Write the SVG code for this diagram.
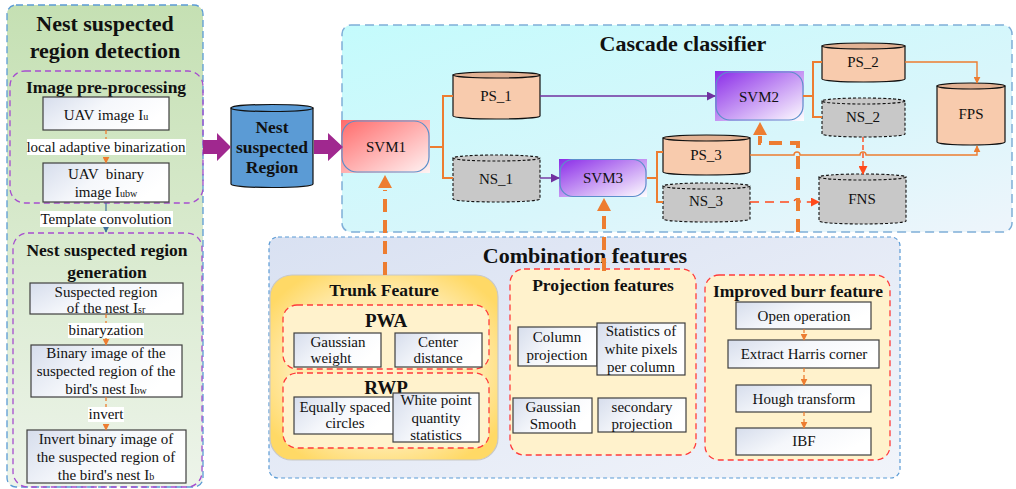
<svg xmlns="http://www.w3.org/2000/svg" width="1016" height="489" viewBox="0 0 1016 489">
<defs>
<linearGradient id="gGreen" x1="0" y1="0" x2="0" y2="1"><stop offset="0" stop-color="#C5E0B3"/><stop offset="1" stop-color="#EDF4EA"/></linearGradient>
<linearGradient id="gCyan" x1="0" y1="0" x2="1" y2="1"><stop offset="0" stop-color="#C4FBFC"/><stop offset="0.6" stop-color="#D8F6FB"/><stop offset="1" stop-color="#EEF5FB"/></linearGradient>
<linearGradient id="gComb" x1="0" y1="0" x2="1" y2="1"><stop offset="0" stop-color="#D9E1F2"/><stop offset="1" stop-color="#F1F4FA"/></linearGradient>
<linearGradient id="gBox" x1="0" y1="0" x2="1" y2="0.4"><stop offset="0" stop-color="#D6DDEC"/><stop offset="0.5" stop-color="#F5F7FB"/><stop offset="1" stop-color="#FFFFFF"/></linearGradient>
<linearGradient id="gRed" x1="0" y1="0" x2="1" y2="1"><stop offset="0" stop-color="#FF6A6A"/><stop offset="1" stop-color="#FFF4F4"/></linearGradient>
<linearGradient id="gViolet" x1="0" y1="0" x2="1" y2="1"><stop offset="0" stop-color="#8A2BE8"/><stop offset="1" stop-color="#FFFFFF"/></linearGradient>
<radialGradient id="gTrunk" cx="0.5" cy="0.5" r="0.6"><stop offset="0" stop-color="#FFF3C8"/><stop offset="0.7" stop-color="#FFE9A8"/><stop offset="1" stop-color="#FFD966"/></radialGradient>
<marker id="aO" viewBox="0 0 10 10" refX="9" refY="5" markerWidth="7" markerHeight="7" markerUnits="userSpaceOnUse" orient="auto"><path d="M0,0 L10,5 L0,10 Z" fill="#ED7D31"/></marker>
<marker id="aP" viewBox="0 0 10 10" refX="9" refY="5" markerWidth="9" markerHeight="9" markerUnits="userSpaceOnUse" orient="auto"><path d="M0,0 L10,5 L0,10 Z" fill="#7030A0"/></marker>
<marker id="aR" viewBox="0 0 10 10" refX="9" refY="5" markerWidth="9" markerHeight="9" markerUnits="userSpaceOnUse" orient="auto"><path d="M0,0 L10,5 L0,10 Z" fill="#FF4A1C"/></marker>
<marker id="aB" viewBox="0 0 10 10" refX="9" refY="5" markerWidth="7" markerHeight="7" markerUnits="userSpaceOnUse" orient="auto"><path d="M0,0 L10,5 L0,10 Z" fill="#41719C"/></marker>
<style>
text{font-family:"Liberation Serif","Times New Roman",serif;fill:#111;text-anchor:middle}
.t14{font-size:15px}
.t15{font-size:15px}
.b16{font-size:17.5px;font-weight:bold}
.b17{font-size:17.5px;font-weight:bold}
.b18{font-size:19px;font-weight:bold}
.b22{font-size:22px;font-weight:bold}
.sub{font-size:10px}
.wbox{fill:url(#gBox);stroke:#3F3F3F;stroke-width:1.2}
.lbl{fill:#FFFFFF}
.cylO{fill:#F8CBAD;stroke:#111;stroke-width:1.2}
.cylOt{fill:#E2B294;stroke:#111;stroke-width:1.2}
.cylG{fill:#C8C8C8;stroke:#111;stroke-width:1.1;stroke-dasharray:3 2}
.purp{fill:none;stroke:#A64DCF;stroke-width:1.3;stroke-dasharray:6 4}
.redd{fill:#FFF2CC;stroke:#FF3B3B;stroke-width:1.3;stroke-dasharray:6 4}
.oc{fill:none;stroke:#ED7D31;stroke-width:2}
.ocd{fill:none;stroke:#ED7D31;stroke-width:1.3;stroke-dasharray:4 3}
.big{fill:none;stroke:#ED7D31;stroke-width:4;stroke-dasharray:13 8}
.svmb{fill:none;stroke:#5B8FCB;stroke-width:1.2}
</style>
</defs>

<!-- Left panel -->
<g id="left-panel">
<rect x="7" y="5" width="196" height="482" rx="9" fill="url(#gGreen)" stroke="#5B9BD5" stroke-width="1.3" stroke-dasharray="7 4"/>
<text class="b22" x="105" y="31">Nest suspected</text>
<text class="b22" x="105" y="58">region detection</text>
</g>

<g id="pre-processing">
<rect x="10" y="71" width="193" height="132" rx="15" fill="#FBE4D6" class="purp"/>
<text class="b17" x="106" y="93">Image pre-processing</text>
</g>
<g id="uav-image">
<rect class="wbox" x="43" y="97" width="126" height="33"/>
<text class="t15" x="106" y="120">UAV image I<tspan class="sub">u</tspan></text>
</g>
<g id="uav-binary">
<rect class="wbox" x="43" y="163" width="126" height="39"/>
<text class="t15" x="106" y="179" xml:space="preserve">UAV  binary</text>
<text class="t15" x="106" y="197">image I<tspan class="sub">ubw</tspan></text>
</g>

<g id="generation">
<rect x="13" y="233" width="189" height="254" rx="15" fill="#FBE4D6" class="purp"/>
<text class="b17" x="107" y="256">Nest suspected region</text>
<text class="b17" x="107" y="278">generation</text>
</g>
<g id="suspected-region">
<rect class="wbox" x="30" y="283" width="153" height="31"/>
<text class="t14" x="106" y="297">Suspected region</text>
<text class="t14" x="106" y="313">of the nest I<tspan class="sub">sr</tspan></text>
</g>
<g id="binary-image">
<rect class="wbox" x="31" y="345" width="151" height="52"/>
<text class="t14" x="106" y="358">Binary image of the</text>
<text class="t14" x="106" y="376">suspected region of the</text>
<text class="t14" x="106" y="394">bird's nest I<tspan class="sub">bw</tspan></text>
</g>
<g id="invert-binary">
<rect class="wbox" x="27" y="430" width="159" height="53"/>
<text class="t14" x="106" y="444">Invert binary image of</text>
<text class="t14" x="106" y="462">the suspected region of</text>
<text class="t14" x="106" y="480">the bird's nest I<tspan class="sub">b</tspan></text>
</g>

<g id="nest-region">
<path d="M231,108 V184 A41,3.5 0 0 0 313,184 V108 Z" fill="#5B9BD5" stroke="#111" stroke-width="1.2"/>
<ellipse cx="272" cy="108" rx="41" ry="3.5" fill="#5B9BD5" stroke="#111" stroke-width="1.2"/>
<text class="b17" x="272" y="133">Nest</text>
<text class="b17" x="272" y="153">suspected</text>
<text class="b17" x="272" y="173">Region</text>
</g>

<!-- Cascade classifier -->
<g id="cascade">
<rect x="342" y="25" width="670" height="207" rx="9" fill="url(#gCyan)" stroke="#7FAFD8" stroke-width="1.5" stroke-dasharray="9 5"/>
<text class="b22" x="683" y="51">Cascade classifier</text>
</g>
<g id="svm1">
<rect x="341" y="120" width="89" height="53" fill="url(#gRed)"/>
<rect class="svmb" x="342" y="121" width="87" height="51" rx="15"/>
<text class="t15" x="386" y="152">SVM1</text>
</g>
<g id="ps1">
<path class="cylO" d="M453,75 V116 A43.5,3 0 0 0 540,116 V75 Z"/>
<ellipse class="cylOt" cx="496.5" cy="75" rx="43.5" ry="3"/>
<text class="t15" x="496" y="101">PS_1</text>
</g>
<g id="ns1">
<path class="cylG" d="M453,158 V199 A43.5,3 0 0 0 540,199 V158 Z"/>
<ellipse class="cylG" cx="496.5" cy="158" rx="43.5" ry="3"/>
<text class="t15" x="496" y="184">NS_1</text>
</g>
<g id="svm2">
<rect x="715" y="71" width="89" height="50" fill="url(#gViolet)"/>
<rect class="svmb" x="716" y="72" width="87" height="48" rx="14"/>
<text class="t15" x="759" y="102">SVM2</text>
</g>
<g id="svm3">
<rect x="559" y="159" width="88" height="38" fill="url(#gViolet)"/>
<rect class="svmb" x="560" y="159.5" width="86" height="37" rx="13"/>
<text class="t15" x="603" y="183">SVM3</text>
</g>
<g id="ps2">
<path class="cylO" d="M822,46 V79 A41.5,3 0 0 0 905,79 V46 Z"/>
<ellipse class="cylOt" cx="863.5" cy="46" rx="41.5" ry="3"/>
<text class="t15" x="863" y="67">PS_2</text>
</g>
<g id="ns2">
<path class="cylG" d="M822,101 V134 A41.5,3 0 0 0 905,134 V101 Z"/>
<ellipse class="cylG" cx="863.5" cy="101" rx="41.5" ry="3"/>
<text class="t15" x="863" y="122">NS_2</text>
</g>
<g id="fps">
<path class="cylO" d="M937,86 V142 A34,3 0 0 0 1005,142 V86 Z"/>
<ellipse class="cylOt" cx="971" cy="86" rx="34" ry="3"/>
<text class="t15" x="971" y="119">FPS</text>
</g>
<g id="ps3">
<path class="cylO" d="M663,138 V172 A43.5,3 0 0 0 750,172 V138 Z"/>
<ellipse class="cylOt" cx="706.5" cy="138" rx="43.5" ry="3"/>
<text class="t15" x="706" y="160">PS_3</text>
</g>
<g id="ns3">
<path class="cylG" d="M663,186 V219 A43.5,3 0 0 0 750,219 V186 Z"/>
<ellipse class="cylG" cx="706.5" cy="186" rx="43.5" ry="3"/>
<text class="t15" x="706" y="206">NS_3</text>
</g>
<g id="fns">
<path class="cylG" d="M819,177 V221 A43.5,3 0 0 0 906,221 V177 Z"/>
<ellipse class="cylG" cx="862.5" cy="177" rx="43.5" ry="3"/>
<text class="t15" x="862" y="204">FNS</text>
</g>

<!-- Combination features -->
<g id="combination">
<rect x="269" y="237" width="631" height="241" rx="9" fill="url(#gComb)" stroke="#5B9BD5" stroke-width="1.2" stroke-dasharray="4 3"/>
<text class="b22" x="585" y="263">Combination features</text>
</g>
<g id="trunk">
<rect x="270" y="275" width="228" height="185" rx="22" fill="url(#gTrunk)" stroke="#C8C8C8" stroke-width="1.2"/>
<text class="b16" x="384" y="296">Trunk Feature</text>
</g>
<g id="pwa">
<rect class="redd" x="283" y="305" width="206" height="64" rx="14"/>
<text class="b18" x="386" y="327">PWA</text>
</g>
<g id="gaussian-weight">
<rect class="wbox" x="294" y="333" width="87" height="34"/>
<text class="t14" x="338" y="347">Gaussian</text>
<text class="t14" x="331" y="363">weight</text>
</g>
<g id="center-distance">
<rect class="wbox" x="395" y="333" width="87" height="34"/>
<text class="t14" x="438" y="347">Center</text>
<text class="t14" x="438" y="363">distance</text>
</g>
<g id="rwp">
<rect class="redd" x="283" y="373" width="206" height="75" rx="14"/>
<text class="b18" x="386" y="394">RWP</text>
</g>
<g id="equally-spaced">
<rect class="wbox" x="294" y="397" width="100" height="37"/>
<text class="t14" x="345" y="412">Equally spaced</text>
<text class="t14" x="345" y="428">circles</text>
</g>
<g id="white-point">
<rect class="wbox" x="393" y="393" width="86" height="49"/>
<text class="t14" x="436" y="405">White point</text>
<text class="t14" x="436" y="423">quantity</text>
<text class="t14" x="436" y="440">statistics</text>
</g>

<g id="projection">
<rect class="redd" x="510" y="269" width="186" height="186" rx="14"/>
<text class="b16" x="603" y="291">Projection features</text>
</g>
<g id="column-projection">
<rect class="wbox" x="518" y="327" width="79" height="39"/>
<text class="t14" x="557" y="342">Column</text>
<text class="t14" x="557" y="360">projection</text>
</g>
<g id="statistics-white">
<rect class="wbox" x="597" y="323" width="88" height="52"/>
<text class="t14" x="641" y="336">Statistics of</text>
<text class="t14" x="641" y="354">white pixels</text>
<text class="t14" x="641" y="372">per column</text>
</g>
<g id="gaussian-smooth">
<rect class="wbox" x="513" y="398" width="79" height="35"/>
<text class="t14" x="553" y="412">Gaussian</text>
<text class="t14" x="553" y="429">Smooth</text>
</g>
<g id="secondary-projection">
<rect class="wbox" x="598" y="398" width="88" height="34"/>
<text class="t14" x="642" y="412">secondary</text>
<text class="t14" x="642" y="429">projection</text>
</g>

<g id="burr">
<rect class="redd" x="705" y="275" width="185" height="185" rx="14"/>
<text class="b16" x="798" y="297">Improved burr feature</text>
</g>
<g id="open-operation">
<rect class="wbox" x="736" y="302" width="135" height="27"/>
<text class="t14" x="804" y="321">Open operation</text>
</g>
<g id="harris">
<rect class="wbox" x="728" y="340" width="151" height="28"/>
<text class="t14" x="804" y="359">Extract Harris corner</text>
</g>
<g id="hough">
<rect class="wbox" x="736" y="385" width="135" height="27"/>
<text class="t14" x="804" y="404">Hough transform</text>
</g>
<g id="ibf">
<rect class="wbox" x="736" y="428" width="135" height="27"/>
<text class="t14" x="804" y="446">IBF</text>
</g>

<!-- Connectors -->
<g id="connectors">
<line class="ocd" x1="106" y1="130" x2="106" y2="163" marker-end="url(#aO)"/>
<rect class="lbl" x="27" y="139" width="159" height="16"/>
<text class="t14" x="106" y="152">local adaptive binarization</text>
<line x1="106" y1="203" x2="106" y2="232" stroke="#41719C" stroke-width="1.2" marker-end="url(#aB)"/>
<rect class="lbl" x="40" y="211" width="133" height="16"/>
<text class="t14" x="106" y="224">Template convolution</text>
<line class="ocd" x1="106" y1="314" x2="106" y2="345" marker-end="url(#aO)"/>
<rect class="lbl" x="68" y="323" width="76" height="15"/>
<text class="t14" x="106" y="335">binaryzation</text>
<line class="ocd" x1="106" y1="397" x2="106" y2="430" marker-end="url(#aO)"/>
<rect class="lbl" x="88" y="407" width="36" height="15"/>
<text class="t14" x="106" y="419">invert</text>

<polygon points="203,140 217,140 217,133 231,147 217,161 217,154 203,154" fill="#A0288F"/>
<polygon points="314,140 328,140 328,133 343,147 328,161 328,154 314,154" fill="#A0288F"/>

<path class="oc" d="M430,147 H443 M453,96 H443 V178 H453"/>
<line x1="540" y1="96" x2="715" y2="96" stroke="#7030A0" stroke-width="1.4" marker-end="url(#aP)"/>
<line x1="540" y1="178" x2="559" y2="178" stroke="#7030A0" stroke-width="1.4" marker-end="url(#aP)"/>
<path class="oc" d="M803,96 H813 M822,62 H813 V117 H822"/>
<path class="oc" d="M647,178 H657 M663,152 H657 V202 H663"/>
<path fill="none" stroke="#ED7D31" stroke-width="1.4" d="M905,62 H977 V83" marker-end="url(#aO)"/>
<path fill="none" stroke="#ED7D31" stroke-width="1.4" d="M750,155 H794 A3,3 0 0 1 800,155 H860 A3,3 0 0 1 866,155 H977 V146" marker-end="url(#aO)"/>
<line x1="863" y1="137" x2="863" y2="174" stroke="#FF4A1C" stroke-width="1.4" stroke-dasharray="5 3" marker-end="url(#aR)"/>
<path fill="none" stroke="#FF4A1C" stroke-width="1.4" stroke-dasharray="9 6" d="M750,202 H794 A3,3 0 0 1 800,202 H819" marker-end="url(#aR)"/>

<path class="big" d="M385,275 V190"/>
<polygon points="385,175 378,188 392,188" fill="#ED7D31"/>
<path class="big" d="M604,271 V211"/>
<polygon points="604,198 597,211 611,211" fill="#ED7D31"/>
<path class="big" d="M798,232 V143 H760 V136"/>
<polygon points="760,122 753,135 767,135" fill="#ED7D31"/>

<line class="ocd" x1="804" y1="329" x2="804" y2="340" marker-end="url(#aO)"/>
<line class="ocd" x1="804" y1="368" x2="804" y2="385" marker-end="url(#aO)"/>
<line class="ocd" x1="804" y1="412" x2="804" y2="428" marker-end="url(#aO)"/>
</g>
</svg>
